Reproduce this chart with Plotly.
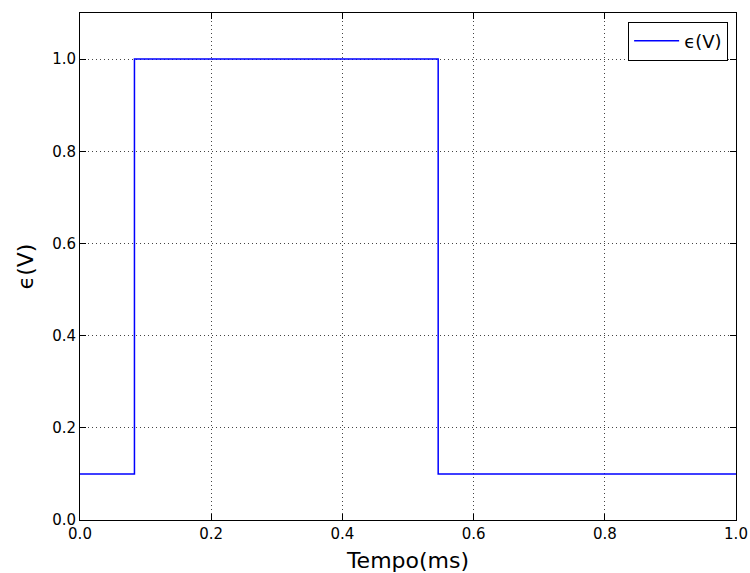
import plotly.graph_objects as go

# data
t_ms = [0.0, 0.083, 0.546, 1.0]
eps_v = [0.1, 1.0, 0.1, 0.1]
series_name = "ϵ(V)"
x_title = "Tempo(ms)"
y_title = "ϵ(V)"
x_ticks = [0.0, 0.2, 0.4, 0.6, 0.8, 1.0]
y_ticks = [0.0, 0.2, 0.4, 0.6, 0.8, 1.0]

fig = go.Figure()
fig.add_trace(go.Scatter(
    x=t_ms, y=eps_v, mode="lines", line_shape="hv",
    line=dict(color="#0000ff", width=1.5), name=series_name, showlegend=True,
))

axis_common = dict(
    showline=True, linecolor="black", linewidth=1, mirror="allticks",
    ticks="inside", ticklen=6, tickcolor="black", tickwidth=1,
    showgrid=True, gridcolor="#444444", griddash="1px,3px", gridwidth=1,
    zeroline=False, tickformat=".1f", automargin=False,
    tickfont=dict(family="DejaVu Sans", size=15, color="black"),
)

fig.update_layout(
    width=750, height=573,
    margin=dict(l=80, r=14, t=13, b=53),
    plot_bgcolor="white", paper_bgcolor="white",
    font=dict(family="DejaVu Sans", color="black"),
    xaxis=dict(range=[0, 1], tickvals=x_ticks,
               title=dict(text=x_title, font=dict(size=22), standoff=10), **axis_common),
    yaxis=dict(range=[0, 1.1], tickvals=y_ticks,
               title=dict(text=y_title, font=dict(size=22), standoff=12), **axis_common),
    showlegend=True,
    legend=dict(x=0.988, xanchor="right", y=0.983, yanchor="top",
                bordercolor="black", borderwidth=1, bgcolor="white",
                entrywidth=70, itemwidth=45,
                font=dict(size=18, family="DejaVu Sans")),
)

fig.write_html("out.html")
